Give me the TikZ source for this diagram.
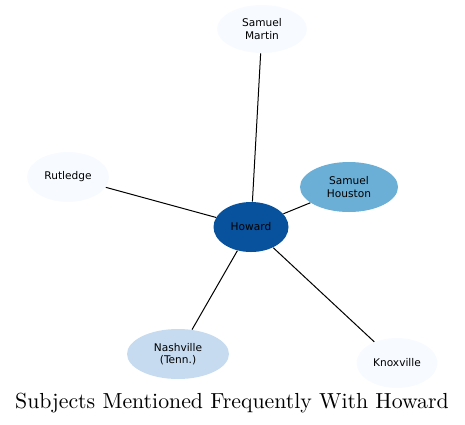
\documentclass[tikz,border=0pt]{standalone}
\usepackage{fontspec}
\newfontfamily\nodefont{DejaVu Sans}
\usetikzlibrary{shapes.geometric}
\definecolor{blueone}{HTML}{f7fbff}
\definecolor{bluethree}{HTML}{c6dbef}
\definecolor{bluefive}{HTML}{6baed6}
\definecolor{blueeight}{HTML}{08519c}

\begin{document}
\begin{tikzpicture}[x=0.5pt, y=-0.5pt, every node/.style={font=\nodefont\fontsize{5.3}{6.2}\selectfont, align=center, inner sep=0pt},
  subject/.style={ellipse, draw=none, minimum height=25pt},
  link/.style={black, line width=0.5pt}]
\useasboundingbox (0,0) rectangle (465,424);
\node[subject, fill=blueeight, minimum width=37.5pt] (howard) at (251,227) {Howard};
\node[subject, fill=blueone, minimum width=45pt, minimum height=24pt] (martin) at (262,29) {Samuel\\Martin};
\node[subject, fill=bluefive, minimum width=49pt] (houston) at (349,187) {Samuel\\Houston};
\node[subject, fill=blueone, minimum width=41pt] (rutledge) at (68,177) {Rutledge};
\node[subject, fill=bluethree, minimum width=51pt] (nashville) at (178,354) {Nashville\\(Tenn.)};
\node[subject, fill=blueone, minimum width=40.5pt] (knoxville) at (397,363) {Knoxville};
\draw[link] (howard) -- (martin);
\draw[link] (howard) -- (houston);
\draw[link] (howard) -- (rutledge);
\draw[link] (howard) -- (nashville);
\draw[link] (howard) -- (knoxville);
\node[font=\fontsize{10.9}{12}\selectfont, anchor=base] (title) at (232,408) {Subjects Mentioned Frequently With Howard};
\end{tikzpicture}
\end{document}
